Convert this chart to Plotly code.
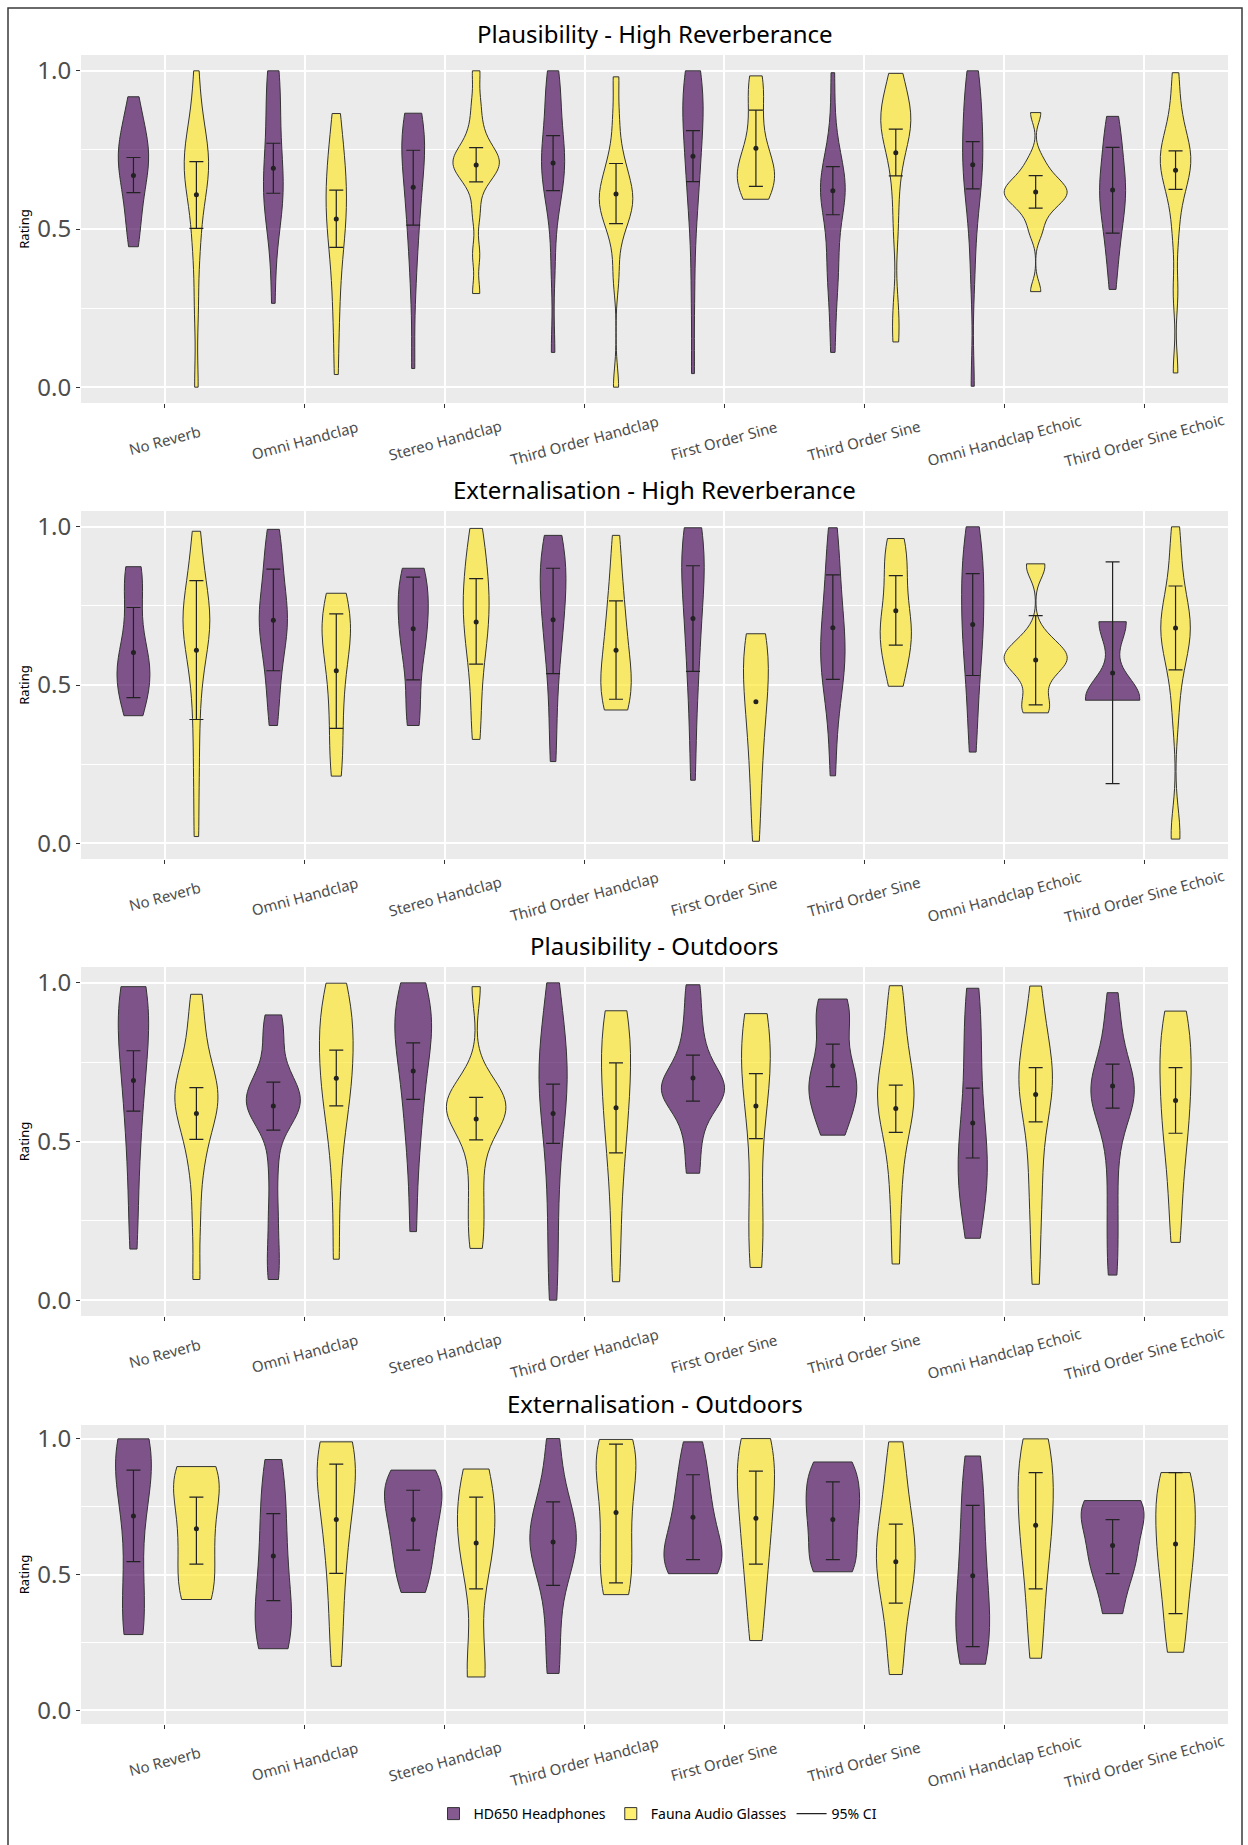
import numpy as np
import plotly.graph_objects as go

# ---------------------------------------------------------------- data
categories = ["No Reverb", "Omni Handclap", "Stereo Handclap", "Third Order Handclap",
              "First Order Sine", "Third Order Sine", "Omni Handclap Echoic",
              "Third Order Sine Echoic"]
panel_titles = ["Plausibility - High Reverberance", "Externalisation - High Reverberance",
                "Plausibility - Outdoors", "Externalisation - Outdoors"]
devices = ["HD650 Headphones", "Fauna Audio Glasses"]

# Individual ratings, one list per stimulus condition
p1_hd650 = [
    [0.444, 0.50, 0.56, 0.60, 0.64, 0.67, 0.70, 0.72, 0.74, 0.76, 0.79, 0.82, 0.86, 0.918],
    [0.265, 0.45, 0.55, 0.58, 0.60, 0.62, 0.64, 0.68, 0.72, 0.78, 0.84, 0.90, 0.95, 1.0, 1.0],
    [0.059, 0.30, 0.42, 0.50, 0.55, 0.60, 0.65, 0.70, 0.72, 0.75, 0.78, 0.80, 0.83, 0.85, 0.866],
    [0.11, 0.38, 0.55, 0.60, 0.65, 0.68, 0.70, 0.72, 0.74, 0.78, 0.82, 0.88, 0.93, 0.97, 1.0],
    [0.043, 0.30, 0.50, 0.60, 0.65, 0.70, 0.75, 0.80, 0.84, 0.87, 0.90, 0.93, 0.96, 0.98, 1.0],
    [0.11, 0.25, 0.36, 0.39, 0.42, 0.57, 0.60, 0.61, 0.62, 0.63, 0.64, 0.66, 0.70, 0.80, 0.994],
    [0.003, 0.35, 0.50, 0.58, 0.63, 0.67, 0.70, 0.73, 0.76, 0.80, 0.84, 0.88, 0.93, 0.97, 1.0],
    [0.309, 0.40, 0.45, 0.50, 0.54, 0.57, 0.60, 0.62, 0.64, 0.66, 0.70, 0.74, 0.78, 0.82, 0.856],
]
p1_fauna = [
    [0.0, 0.25, 0.42, 0.50, 0.58, 0.63, 0.66, 0.68, 0.70, 0.72, 0.75, 0.78, 0.82, 0.88, 1.0],
    [0.04, 0.20, 0.30, 0.40, 0.45, 0.50, 0.53, 0.56, 0.60, 0.63, 0.66, 0.70, 0.74, 0.80, 0.865],
    [0.296, 0.42, 0.55, 0.64, 0.67, 0.69, 0.70, 0.71, 0.72, 0.73, 0.75, 0.78, 0.83, 0.90, 1.0],
    [0.0, 0.35, 0.47, 0.52, 0.55, 0.57, 0.58, 0.60, 0.62, 0.64, 0.67, 0.70, 0.75, 0.85, 0.981],
    [0.594, 0.61, 0.63, 0.65, 0.66, 0.67, 0.68, 0.70, 0.72, 0.75, 0.80, 0.86, 0.92, 0.96, 0.984],
    [0.143, 0.24, 0.50, 0.63, 0.72, 0.76, 0.80, 0.82, 0.84, 0.85, 0.86, 0.88, 0.92, 0.96, 0.992],
    [0.302, 0.49, 0.54, 0.57, 0.59, 0.60, 0.61, 0.62, 0.63, 0.64, 0.66, 0.68, 0.72, 0.868],
    [0.045, 0.30, 0.48, 0.58, 0.63, 0.66, 0.69, 0.71, 0.72, 0.74, 0.76, 0.79, 0.83, 0.90, 0.994],
]
p2_hd650 = [
    [0.403, 0.42, 0.46, 0.50, 0.52, 0.54, 0.55, 0.57, 0.60, 0.64, 0.70, 0.78, 0.82, 0.86, 0.874],
    [0.372, 0.45, 0.52, 0.58, 0.63, 0.66, 0.69, 0.71, 0.73, 0.76, 0.80, 0.85, 0.90, 0.95, 0.992],
    [0.372, 0.40, 0.45, 0.55, 0.60, 0.63, 0.66, 0.69, 0.72, 0.75, 0.78, 0.81, 0.84, 0.86, 0.869],
    [0.258, 0.38, 0.50, 0.58, 0.64, 0.68, 0.72, 0.76, 0.80, 0.83, 0.86, 0.89, 0.92, 0.95, 0.973],
    [0.199, 0.35, 0.48, 0.56, 0.62, 0.68, 0.74, 0.79, 0.83, 0.87, 0.90, 0.93, 0.96, 0.98, 0.997],
    [0.213, 0.35, 0.45, 0.50, 0.54, 0.57, 0.60, 0.63, 0.66, 0.70, 0.75, 0.80, 0.86, 0.93, 0.997],
    [0.288, 0.38, 0.47, 0.55, 0.60, 0.64, 0.68, 0.72, 0.76, 0.80, 0.84, 0.88, 0.92, 0.96, 1.0],
    [0.452, 0.46, 0.70],
]
p2_fauna = [
    [0.021, 0.20, 0.35, 0.48, 0.56, 0.62, 0.66, 0.68, 0.70, 0.72, 0.75, 0.78, 0.84, 0.90, 0.986],
    [0.212, 0.25, 0.32, 0.40, 0.46, 0.52, 0.58, 0.62, 0.65, 0.67, 0.69, 0.71, 0.74, 0.77, 0.79],
    [0.328, 0.40, 0.50, 0.58, 0.62, 0.66, 0.70, 0.73, 0.76, 0.79, 0.82, 0.86, 0.90, 0.96, 0.995],
    [0.421, 0.43, 0.45, 0.47, 0.50, 0.52, 0.55, 0.58, 0.62, 0.66, 0.70, 0.75, 0.80, 0.88, 0.973],
    [0.006, 0.12, 0.22, 0.30, 0.37, 0.42, 0.47, 0.51, 0.55, 0.59, 0.62, 0.65, 0.662],
    [0.496, 0.53, 0.58, 0.62, 0.64, 0.66, 0.68, 0.70, 0.74, 0.78, 0.83, 0.87, 0.91, 0.94, 0.963],
    [0.412, 0.42, 0.45, 0.50, 0.54, 0.56, 0.57, 0.58, 0.59, 0.60, 0.61, 0.63, 0.66, 0.87, 0.883],
    [0.013, 0.04, 0.40, 0.52, 0.58, 0.62, 0.65, 0.67, 0.69, 0.71, 0.74, 0.78, 0.84, 0.92, 1.0],
]
p3_hd650 = [
    [0.161, 0.30, 0.45, 0.55, 0.62, 0.70, 0.75, 0.80, 0.85, 0.90, 0.93, 0.96, 0.98, 0.988],
    [0.065, 0.16, 0.28, 0.42, 0.55, 0.58, 0.60, 0.62, 0.63, 0.64, 0.66, 0.68, 0.72, 0.80, 0.86, 0.899],
    [0.216, 0.40, 0.52, 0.60, 0.66, 0.72, 0.78, 0.82, 0.85, 0.87, 0.90, 0.94, 0.98, 1.0],
    [0.0, 0.12, 0.25, 0.38, 0.48, 0.55, 0.62, 0.66, 0.69, 0.72, 0.75, 0.80, 0.86, 0.93, 1.0],
    [0.40, 0.50, 0.58, 0.62, 0.65, 0.66, 0.67, 0.69, 0.72, 0.76, 0.82, 0.90, 0.994],
    [0.52, 0.56, 0.62, 0.65, 0.67, 0.69, 0.72, 0.76, 0.86, 0.90, 0.93, 0.949],
    [0.195, 0.25, 0.32, 0.37, 0.40, 0.42, 0.45, 0.50, 0.55, 0.62, 0.70, 0.78, 0.86, 0.93, 0.983],
    [0.079, 0.20, 0.32, 0.45, 0.55, 0.60, 0.63, 0.65, 0.66, 0.68, 0.70, 0.74, 0.80, 0.88, 0.969],
]
p3_fauna = [
    [0.065, 0.25, 0.40, 0.48, 0.54, 0.58, 0.61, 0.63, 0.65, 0.67, 0.70, 0.74, 0.80, 0.88, 0.964],
    [0.129, 0.35, 0.50, 0.58, 0.63, 0.68, 0.72, 0.76, 0.80, 0.84, 0.88, 0.92, 0.96, 0.999],
    [0.163, 0.25, 0.34, 0.44, 0.52, 0.56, 0.58, 0.60, 0.61, 0.62, 0.64, 0.66, 0.70, 0.988],
    [0.058, 0.20, 0.35, 0.45, 0.52, 0.58, 0.63, 0.68, 0.73, 0.78, 0.82, 0.86, 0.90, 0.912],
    [0.103, 0.15, 0.25, 0.30, 0.50, 0.60, 0.66, 0.70, 0.74, 0.78, 0.82, 0.86, 0.89, 0.903],
    [0.114, 0.28, 0.40, 0.50, 0.56, 0.60, 0.63, 0.65, 0.68, 0.72, 0.77, 0.84, 0.92, 0.991],
    [0.05, 0.20, 0.35, 0.40, 0.55, 0.63, 0.66, 0.68, 0.70, 0.72, 0.75, 0.82, 0.90, 0.99],
    [0.182, 0.30, 0.42, 0.50, 0.55, 0.60, 0.65, 0.70, 0.75, 0.80, 0.84, 0.88, 0.911],
]
p4_hd650 = [
    [0.279, 0.30, 0.36, 0.45, 0.58, 0.70, 0.78, 0.85, 0.90, 0.94, 0.97, 0.99, 0.999],
    [0.227, 0.24, 0.28, 0.33, 0.38, 0.45, 0.52, 0.60, 0.68, 0.76, 0.85, 0.923],
    [0.434, 0.50, 0.56, 0.62, 0.67, 0.72, 0.76, 0.80, 0.84, 0.87, 0.884],
    [0.136, 0.30, 0.45, 0.53, 0.58, 0.62, 0.66, 0.70, 0.76, 0.85, 1.0],
    [0.503, 0.51, 0.53, 0.56, 0.60, 0.64, 0.70, 0.76, 0.82, 0.90, 0.988],
    [0.51, 0.52, 0.56, 0.62, 0.68, 0.72, 0.76, 0.80, 0.85, 0.90, 0.914],
    [0.17, 0.20, 0.25, 0.30, 0.36, 0.42, 0.50, 0.58, 0.66, 0.76, 0.86, 0.936],
    [0.356, 0.50, 0.55, 0.60, 0.70, 0.74, 0.76, 0.772],
]
p4_fauna = [
    [0.408, 0.42, 0.47, 0.54, 0.60, 0.66, 0.72, 0.78, 0.83, 0.87, 0.89, 0.897],
    [0.162, 0.30, 0.45, 0.56, 0.64, 0.72, 0.78, 0.84, 0.89, 0.93, 0.96, 0.98, 0.988],
    [0.123, 0.135, 0.15, 0.48, 0.55, 0.60, 0.65, 0.70, 0.75, 0.80, 0.85, 0.888],
    [0.426, 0.45, 0.52, 0.60, 0.68, 0.76, 0.84, 0.90, 0.95, 0.98, 0.997],
    [0.257, 0.40, 0.52, 0.60, 0.68, 0.75, 0.82, 0.88, 0.94, 0.98, 1.0],
    [0.132, 0.25, 0.38, 0.45, 0.50, 0.55, 0.60, 0.64, 0.70, 0.78, 0.88, 0.988],
    [0.192, 0.32, 0.45, 0.55, 0.62, 0.68, 0.74, 0.80, 0.86, 0.92, 0.97, 0.999],
    [0.214, 0.30, 0.42, 0.50, 0.56, 0.62, 0.68, 0.74, 0.80, 0.85, 0.875],
]

# Mean rating and 95% confidence interval per condition (None = no interval)
p1_hd650_mean = [0.669, 0.692, 0.632, 0.709, 0.730, 0.621, 0.703, 0.623]
p1_hd650_lo = [0.615, 0.613, 0.512, 0.621, 0.650, 0.545, 0.627, 0.487]
p1_hd650_hi = [0.726, 0.771, 0.749, 0.795, 0.811, 0.697, 0.776, 0.758]
p1_fauna_mean = [0.608, 0.532, 0.702, 0.611, 0.755, 0.741, 0.617, 0.686]
p1_fauna_lo = [0.502, 0.442, 0.649, 0.517, 0.635, 0.668, 0.566, 0.625]
p1_fauna_hi = [0.713, 0.623, 0.757, 0.707, 0.876, 0.816, 0.669, 0.747]

p2_hd650_mean = [0.603, 0.705, 0.678, 0.706, 0.710, 0.681, 0.691, 0.538]
p2_hd650_lo = [0.460, 0.545, 0.516, 0.536, 0.543, 0.518, 0.530, 0.188]
p2_hd650_hi = [0.745, 0.866, 0.841, 0.869, 0.877, 0.848, 0.852, 0.889]
p2_fauna_mean = [0.610, 0.545, 0.699, 0.610, 0.447, 0.735, 0.579, 0.680]
p2_fauna_lo = [0.391, 0.363, 0.566, 0.455, None, 0.626, 0.437, 0.548]
p2_fauna_hi = [0.830, 0.725, 0.836, 0.766, None, 0.846, 0.719, 0.813]

p3_hd650_mean = [0.692, 0.612, 0.722, 0.588, 0.700, 0.739, 0.558, 0.675]
p3_hd650_lo = [0.596, 0.536, 0.633, 0.494, 0.627, 0.673, 0.448, 0.605]
p3_hd650_hi = [0.786, 0.687, 0.811, 0.681, 0.772, 0.807, 0.668, 0.744]
p3_fauna_mean = [0.588, 0.699, 0.571, 0.606, 0.612, 0.604, 0.648, 0.629]
p3_fauna_lo = [0.507, 0.612, 0.505, 0.464, 0.509, 0.529, 0.562, 0.526]
p3_fauna_hi = [0.670, 0.788, 0.639, 0.748, 0.714, 0.678, 0.733, 0.733]

p4_hd650_mean = [0.715, 0.568, 0.702, 0.620, 0.711, 0.702, 0.495, 0.607]
p4_hd650_lo = [0.547, 0.404, 0.590, 0.460, 0.555, 0.555, 0.235, 0.503]
p4_hd650_hi = [0.884, 0.724, 0.810, 0.767, 0.867, 0.841, 0.754, 0.702]
p4_fauna_mean = [0.668, 0.702, 0.616, 0.728, 0.707, 0.547, 0.681, 0.612]
p4_fauna_lo = [0.538, 0.504, 0.447, 0.469, 0.538, 0.395, 0.447, 0.356]
p4_fauna_hi = [0.785, 0.906, 0.785, 0.980, 0.880, 0.685, 0.875, 0.875]

panels = [
    ((p1_hd650, p1_hd650_mean, p1_hd650_lo, p1_hd650_hi),
     (p1_fauna, p1_fauna_mean, p1_fauna_lo, p1_fauna_hi)),
    ((p2_hd650, p2_hd650_mean, p2_hd650_lo, p2_hd650_hi),
     (p2_fauna, p2_fauna_mean, p2_fauna_lo, p2_fauna_hi)),
    ((p3_hd650, p3_hd650_mean, p3_hd650_lo, p3_hd650_hi),
     (p3_fauna, p3_fauna_mean, p3_fauna_lo, p3_fauna_hi)),
    ((p4_hd650, p4_hd650_mean, p4_hd650_lo, p4_hd650_hi),
     (p4_fauna, p4_fauna_mean, p4_fauna_lo, p4_fauna_hi)),
]

# ---------------------------------------------------------------- style
W, H = 1248, 1845
M_L, M_R, M_T, M_B = 81, 20, 55, 121
PLOT_W = W - M_L - M_R
PLOT_H = H - M_T - M_B
PANEL_PX = [(55, 403), (511, 859), (967, 1316), (1425, 1724)]  # top, bottom in px

FILL = ["rgba(68,1,84,0.65)", "rgba(253,231,37,0.65)"]
OUTLINE = "#333333"
GREY_TXT = "#4D4D4D"
FONT = "Noto Sans"
DODGE = 0.225


def py(px):
    """pixel row -> paper fraction"""
    return (H - M_B - px) / PLOT_H


def px_x(px):
    return (px - M_L) / PLOT_W


def nrd0(v):
    """R's default density bandwidth (Silverman, 0.9 factor)"""
    a = np.asarray(v, dtype=float)
    sd = a.std(ddof=1)
    q75, q25 = np.percentile(a, [75, 25])
    lo = min(sd, (q75 - q25) / 1.34)
    if lo <= 0:
        lo = sd if sd > 0 else 1.0
    return 0.9 * lo * len(a) ** -0.2


fig = go.Figure()
annotations = []

for p, (title, panel) in enumerate(zip(panel_titles, panels)):
    sfx = "" if p == 0 else str(p + 1)
    xa, ya = "x" + sfx, "y" + sfx
    for d, (samples, means, lo, hi) in enumerate(panel):
        for c, vals in enumerate(samples):
            fig.add_trace(go.Violin(
                x=[c + 1] * len(vals), y=vals, xaxis=xa, yaxis=ya,
                name=devices[d], legendgroup=devices[d],
                showlegend=(p == 0 and c == 0),
                offsetgroup=devices[d], alignmentgroup="panel%d" % p,
                scalegroup="panel%d" % p, scalemode="width", spanmode="hard",
                bandwidth=nrd0(vals), points=False,
                fillcolor=FILL[d], line=dict(color=OUTLINE, width=1),
                hoverinfo="skip",
            ))
        xpos = [c + 1 + (2 * d - 1) * DODGE for c in range(len(categories))]
        with_ci = [i for i in range(len(means)) if lo[i] is not None]
        fig.add_trace(go.Scatter(
            x=[xpos[i] for i in with_ci], y=[means[i] for i in with_ci],
            xaxis=xa, yaxis=ya, mode="markers", showlegend=False,
            marker=dict(color="#222222", size=5),
            error_y=dict(type="data", symmetric=False,
                         array=[hi[i] - means[i] for i in with_ci],
                         arrayminus=[means[i] - lo[i] for i in with_ci],
                         color="#222222", thickness=1.2, width=7),
            hoverinfo="skip",
        ))
        no_ci = [i for i in range(len(means)) if lo[i] is None]
        if no_ci:
            fig.add_trace(go.Scatter(
                x=[xpos[i] for i in no_ci], y=[means[i] for i in no_ci],
                xaxis=xa, yaxis=ya, mode="markers", showlegend=False,
                marker=dict(color="#222222", size=5), hoverinfo="skip",
            ))

    top, bottom = PANEL_PX[p]
    dom = [py(bottom), py(top)]
    fig.update_layout({
        "xaxis" + sfx: dict(domain=[0, 1], anchor=ya, range=[0.4, 8.6],
                            tickmode="array", tickvals=list(range(1, 9)),
                            showticklabels=False, ticks="outside", ticklen=4,
                            tickcolor="#333333", tickwidth=1,
                            showgrid=True, gridcolor="white", gridwidth=1.6,
                            zeroline=False, showline=False),
        "yaxis" + sfx: dict(domain=dom, anchor=xa, range=[-0.05, 1.05],
                            tickvals=[0, 0.5, 1.0], ticktext=["0.0", "0.5", "1.0"],
                            ticks="outside", ticklen=4, tickcolor="#333333",
                            tickfont=dict(size=24, color=GREY_TXT, family=FONT),
                            showgrid=True, gridcolor="white", gridwidth=1.6,
                            minor=dict(tickvals=[0.25, 0.75], showgrid=True,
                                       gridcolor="white", gridwidth=0.8, ticks=""),
                            zeroline=False, showline=False,
                            title=dict(text="Rating", standoff=4,
                                       font=dict(size=13, color="black", family=FONT))),
    })
    annotations.append(dict(text=title, xref="paper", yref="paper", x=0.5,
                            y=py(top - 22), xanchor="center", yanchor="middle",
                            showarrow=False,
                            font=dict(size=24, color="black", family=FONT)))
    for c, cat in enumerate(categories):
        annotations.append(dict(text=cat, xref=xa, yref="paper", x=c + 1,
                                y=py(bottom + 37), xanchor="center", yanchor="middle",
                                textangle=-15, showarrow=False,
                                font=dict(size=15, color=GREY_TXT, family=FONT)))

# legend entry for the interval bars
fig.add_trace(go.Scatter(x=[None], y=[None], mode="lines", name="95% CI",
                         line=dict(color="#222222", width=1.2)))

fig.update_layout(
    width=W, height=H, margin=dict(l=M_L, r=M_R, t=M_T, b=M_B),
    paper_bgcolor="white", plot_bgcolor="#EBEBEB",
    font=dict(family=FONT, color="black"),
    violinmode="group", violingap=0.1, violingroupgap=0,
    showlegend=True,
    legend=dict(orientation="h", x=px_x(658), xanchor="center", y=py(1814),
                yanchor="middle", font=dict(size=14, color="black", family=FONT),
                itemwidth=30, bgcolor="rgba(0,0,0,0)"),
    annotations=annotations,
    shapes=[dict(type="rect", xref="paper", yref="paper",
                 x0=px_x(8), x1=px_x(1242), y0=py(1860), y1=py(8),
                 line=dict(color="#3a3a3a", width=1.5), fillcolor="rgba(0,0,0,0)",
                 layer="above")],
)

fig.write_html("out.html")
